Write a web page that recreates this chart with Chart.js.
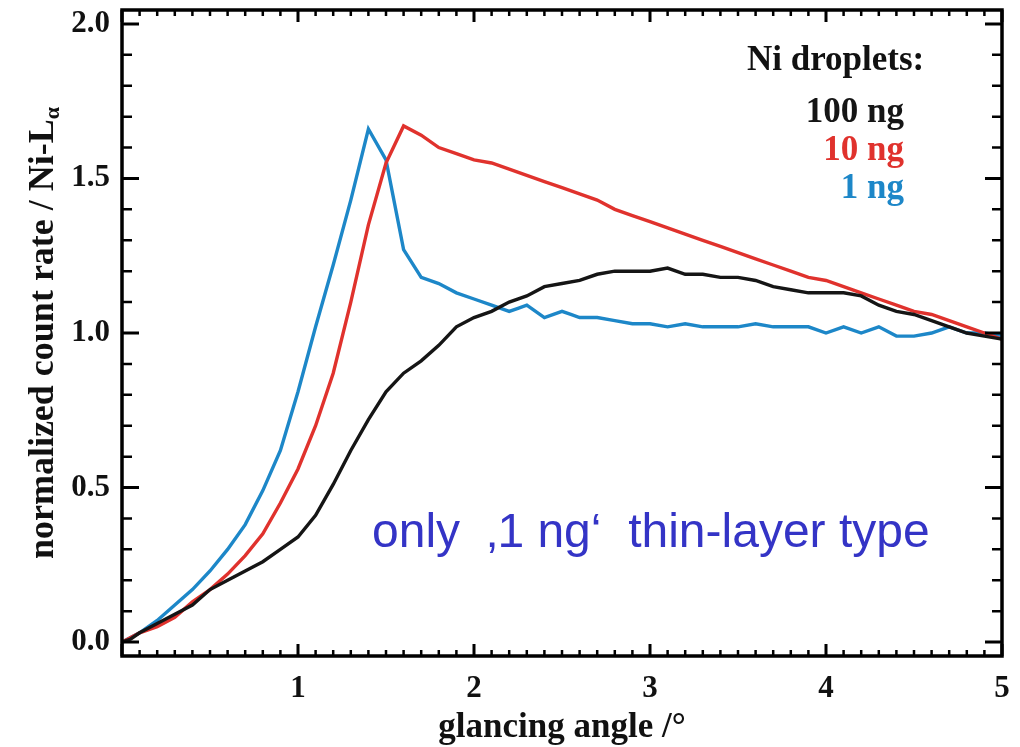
<!DOCTYPE html>
<html>
<head>
<meta charset="utf-8">
<script src="https://cdn.jsdelivr.net/npm/chart.js@4.4.1/dist/chart.umd.min.js"></script>
<style>
  html, body { margin: 0; padding: 0; background: #fff; }
  #wrap { width: 1020px; height: 747px; position: relative; }
</style>
</head>
<body>
<div id="wrap"><canvas id="graf" width="1020" height="747"></canvas></div>
<script>
// glancing angle (deg) and normalized count rate
const anglesBlack = [0, 0.05, 0.1, 0.2, 0.3, 0.4, 0.5, 0.6, 0.7, 0.8, 0.9, 1.0, 1.1, 1.2, 1.3, 1.4, 1.5, 1.6, 1.7, 1.8, 1.9, 2.0,
  2.1, 2.2, 2.3, 2.4, 2.5, 2.6, 2.7, 2.8, 2.9, 3.0, 3.1, 3.2, 3.3, 3.4, 3.5, 3.6, 3.7, 3.8, 3.9, 4.0, 4.1, 4.2, 4.3, 4.4, 4.5, 4.6, 4.7, 4.8, 4.9, 5.0];
const ng100 = [0.00, 0.01, 0.03, 0.06, 0.09, 0.12, 0.17, 0.20, 0.23, 0.26, 0.30, 0.34, 0.41, 0.51, 0.62, 0.72, 0.81, 0.87, 0.91, 0.96, 1.02, 1.05,
  1.07, 1.10, 1.12, 1.15, 1.16, 1.17, 1.19, 1.20, 1.20, 1.20, 1.21, 1.19, 1.19, 1.18, 1.18, 1.17, 1.15, 1.14, 1.13, 1.13, 1.13, 1.12, 1.09, 1.07, 1.06, 1.04, 1.02, 1.00, 0.99, 0.98];

const anglesRed = [0, 0.1, 0.2, 0.3, 0.4, 0.5, 0.6, 0.7, 0.8, 0.9, 1.0, 1.1, 1.2, 1.3, 1.4, 1.5, 1.6, 1.7, 1.8, 1.9, 2.0,
  2.1, 2.2, 2.3, 2.4, 2.5, 2.6, 2.7, 2.8, 2.9, 3.0, 3.1, 3.2, 3.3, 3.4, 3.5, 3.6, 3.7, 3.8, 3.9, 4.0, 4.1, 4.2, 4.3, 4.4, 4.5, 4.6, 4.7, 4.8, 4.9, 5.0];
const ng10 = [0.00, 0.03, 0.05, 0.08, 0.13, 0.17, 0.22, 0.28, 0.35, 0.45, 0.56, 0.70, 0.87, 1.10, 1.35, 1.55, 1.67, 1.64, 1.60, 1.58, 1.56,
  1.55, 1.53, 1.51, 1.49, 1.47, 1.45, 1.43, 1.40, 1.38, 1.36, 1.34, 1.32, 1.30, 1.28, 1.26, 1.24, 1.22, 1.20, 1.18, 1.17, 1.15, 1.13, 1.11, 1.09, 1.07, 1.06, 1.04, 1.02, 1.00, 0.98];

const anglesBlue = [0, 0.1, 0.2, 0.3, 0.4, 0.5, 0.6, 0.7, 0.8, 0.9, 1.0, 1.1, 1.2, 1.3, 1.4, 1.5, 1.6, 1.7, 1.8, 1.9, 2.0,
  2.1, 2.2, 2.25, 2.3, 2.35, 2.4, 2.5, 2.55, 2.6, 2.7, 2.8, 2.9, 3.0, 3.1, 3.2, 3.3, 3.4, 3.5, 3.6, 3.7, 3.8, 3.9, 4.0, 4.1, 4.2, 4.3, 4.4, 4.5, 4.6, 4.7, 4.8, 4.9, 5.0];
const ng1 = [0.00, 0.03, 0.07, 0.12, 0.17, 0.23, 0.30, 0.38, 0.49, 0.62, 0.81, 1.02, 1.22, 1.43, 1.66, 1.56, 1.27, 1.18, 1.16, 1.13, 1.11,
  1.09, 1.07, 1.08, 1.09, 1.07, 1.05, 1.07, 1.06, 1.05, 1.05, 1.04, 1.03, 1.03, 1.02, 1.03, 1.02, 1.02, 1.02, 1.03, 1.02, 1.02, 1.02, 1.00, 1.02, 1.00, 1.02, 0.99, 0.99, 1.00, 1.02, 1.00, 1.00, 0.99];

const xTicks = [1, 2, 3, 4, 5];
const yTicks = [0, 0.5, 1.0, 1.5, 2.0];

const legendTitle = 'Ni droplets:';
const legendLabels = ['100 ng', '10 ng', '1 ng'];
const note = 'only  \u201A1 ng\u2018  thin-layer type';

const colBlack = '#151515', colRed = '#e0322d', colBlue = '#1d87c8';
const serif = '"Liberation Serif", "Times New Roman", serif';

const pts = (xs, ys) => xs.map((x, i) => ({ x: x, y: ys[i] }));

// frame, inward ticks and the text overlays
const marco = {
  id: 'marco',
  afterDraw(chart) {
    const c = chart.ctx, a = chart.chartArea;
    const sx = chart.scales.x, sy = chart.scales.y;
    c.save();
    c.strokeStyle = '#000';
    c.lineCap = 'butt';

    // minor/major ticks on x (bottom + top)
    for (let i = 0; i <= 50; i++) {
      const v = i / 10, px = sx.getPixelForValue(v);
      const major = i % 10 === 0;
      c.lineWidth = major ? 3 : 2.5;
      c.beginPath();
      c.moveTo(px, a.bottom); c.lineTo(px, a.bottom - (major ? 12 : 6));
      c.moveTo(px, a.top); c.lineTo(px, a.top + (major ? 12 : 6));
      c.stroke();
    }
    // minor/major ticks on y (left + right)
    for (let i = 0; i <= 20; i++) {
      const v = i / 10, py = sy.getPixelForValue(v);
      const major = i % 5 === 0;
      c.lineWidth = major ? 3 : 2.5;
      c.beginPath();
      c.moveTo(a.left, py); c.lineTo(a.left + (major ? 17 : 10), py);
      c.moveTo(a.right, py); c.lineTo(a.right - (major ? 17 : 10), py);
      c.stroke();
    }
    c.lineWidth = 3.5;
    c.strokeRect(a.left, a.top, a.right - a.left, a.bottom - a.top);

    // axis titles
    c.fillStyle = '#111';
    c.font = 'bold 35px ' + serif;
    c.textAlign = 'center';
    c.textBaseline = 'alphabetic';
    c.fillText('glancing angle /\u00B0', (a.left + a.right) / 2, 737);

    c.save();
    c.translate(53, 333);
    c.rotate(-Math.PI / 2);
    c.font = 'bold 36px ' + serif;
    const main = 'normalized count rate / Ni-L';
    const wMain = c.measureText(main).width;
    c.font = 'bold 22px ' + serif;
    const wSub = c.measureText('\u03B1').width;
    c.font = 'bold 36px ' + serif;
    c.textAlign = 'left';
    const x0 = -(wMain + wSub) / 2;
    c.fillText(main, x0, 0);
    c.font = 'bold 22px ' + serif;
    c.fillText('\u03B1', x0 + wMain, 6);
    c.restore();

    // legend text
    c.font = 'bold 35px ' + serif;
    c.textAlign = 'left';
    c.fillStyle = '#111';
    c.fillText(legendTitle, 747, 70);
    c.textAlign = 'right';
    [colBlack, colRed, colBlue].forEach((col, i) => {
      c.fillStyle = col;
      c.fillText(legendLabels[i], 904, 122 + i * 38);
    });

    // note
    c.font = '48px "Liberation Sans", Arial, sans-serif';
    c.fillStyle = '#3434c6';
    c.textAlign = 'left';
    c.fillText(note, 372, 547);
    c.restore();
  }
};

const noPad = s => { s.paddingTop = 0; s.paddingBottom = 0; s.paddingLeft = 0; s.paddingRight = 0; };

const $ctx = document.getElementById('graf');
new Chart($ctx, {
  type: 'line',
  data: {
    datasets: [
      { label: legendLabels[0], data: pts(anglesBlack, ng100), borderColor: colBlack },
      { label: legendLabels[1], data: pts(anglesRed, ng10), borderColor: colRed },
      { label: legendLabels[2], data: pts(anglesBlue, ng1), borderColor: colBlue }
    ].map(ds => Object.assign(ds, { borderWidth: 3.4, pointRadius: 0, tension: 0, fill: false }))
  },
  options: {
    responsive: false,
    animation: false,
    devicePixelRatio: 1,
    layout: { padding: { left: 0, right: 18, top: 10, bottom: 0 } },
    plugins: { legend: { display: false }, tooltip: { enabled: false } },
    scales: {
      x: {
        type: 'linear', min: 0, max: 5,
        grid: { display: false, drawTicks: false },
        border: { display: false },
        afterBuildTicks: s => { s.ticks = xTicks.map(v => ({ value: v })); },
        afterFit: s => { s.height = 91; noPad(s); },
        ticks: {
          padding: 14, color: '#111', maxRotation: 0, autoSkip: false,
          font: { family: serif, size: 31, weight: 'bold' },
          callback: v => String(v)
        }
      },
      y: {
        type: 'linear', min: -0.045, max: 2.045,
        grid: { display: false, drawTicks: false },
        border: { display: false },
        afterBuildTicks: s => { s.ticks = yTicks.map(v => ({ value: v })); },
        afterFit: s => { s.width = 122; noPad(s); },
        ticks: {
          padding: 12, color: '#111',
          font: { family: serif, size: 31, weight: 'bold' },
          callback: v => v.toFixed(1)
        }
      }
    }
  },
  plugins: [marco]
});
</script>
</body>
</html>
